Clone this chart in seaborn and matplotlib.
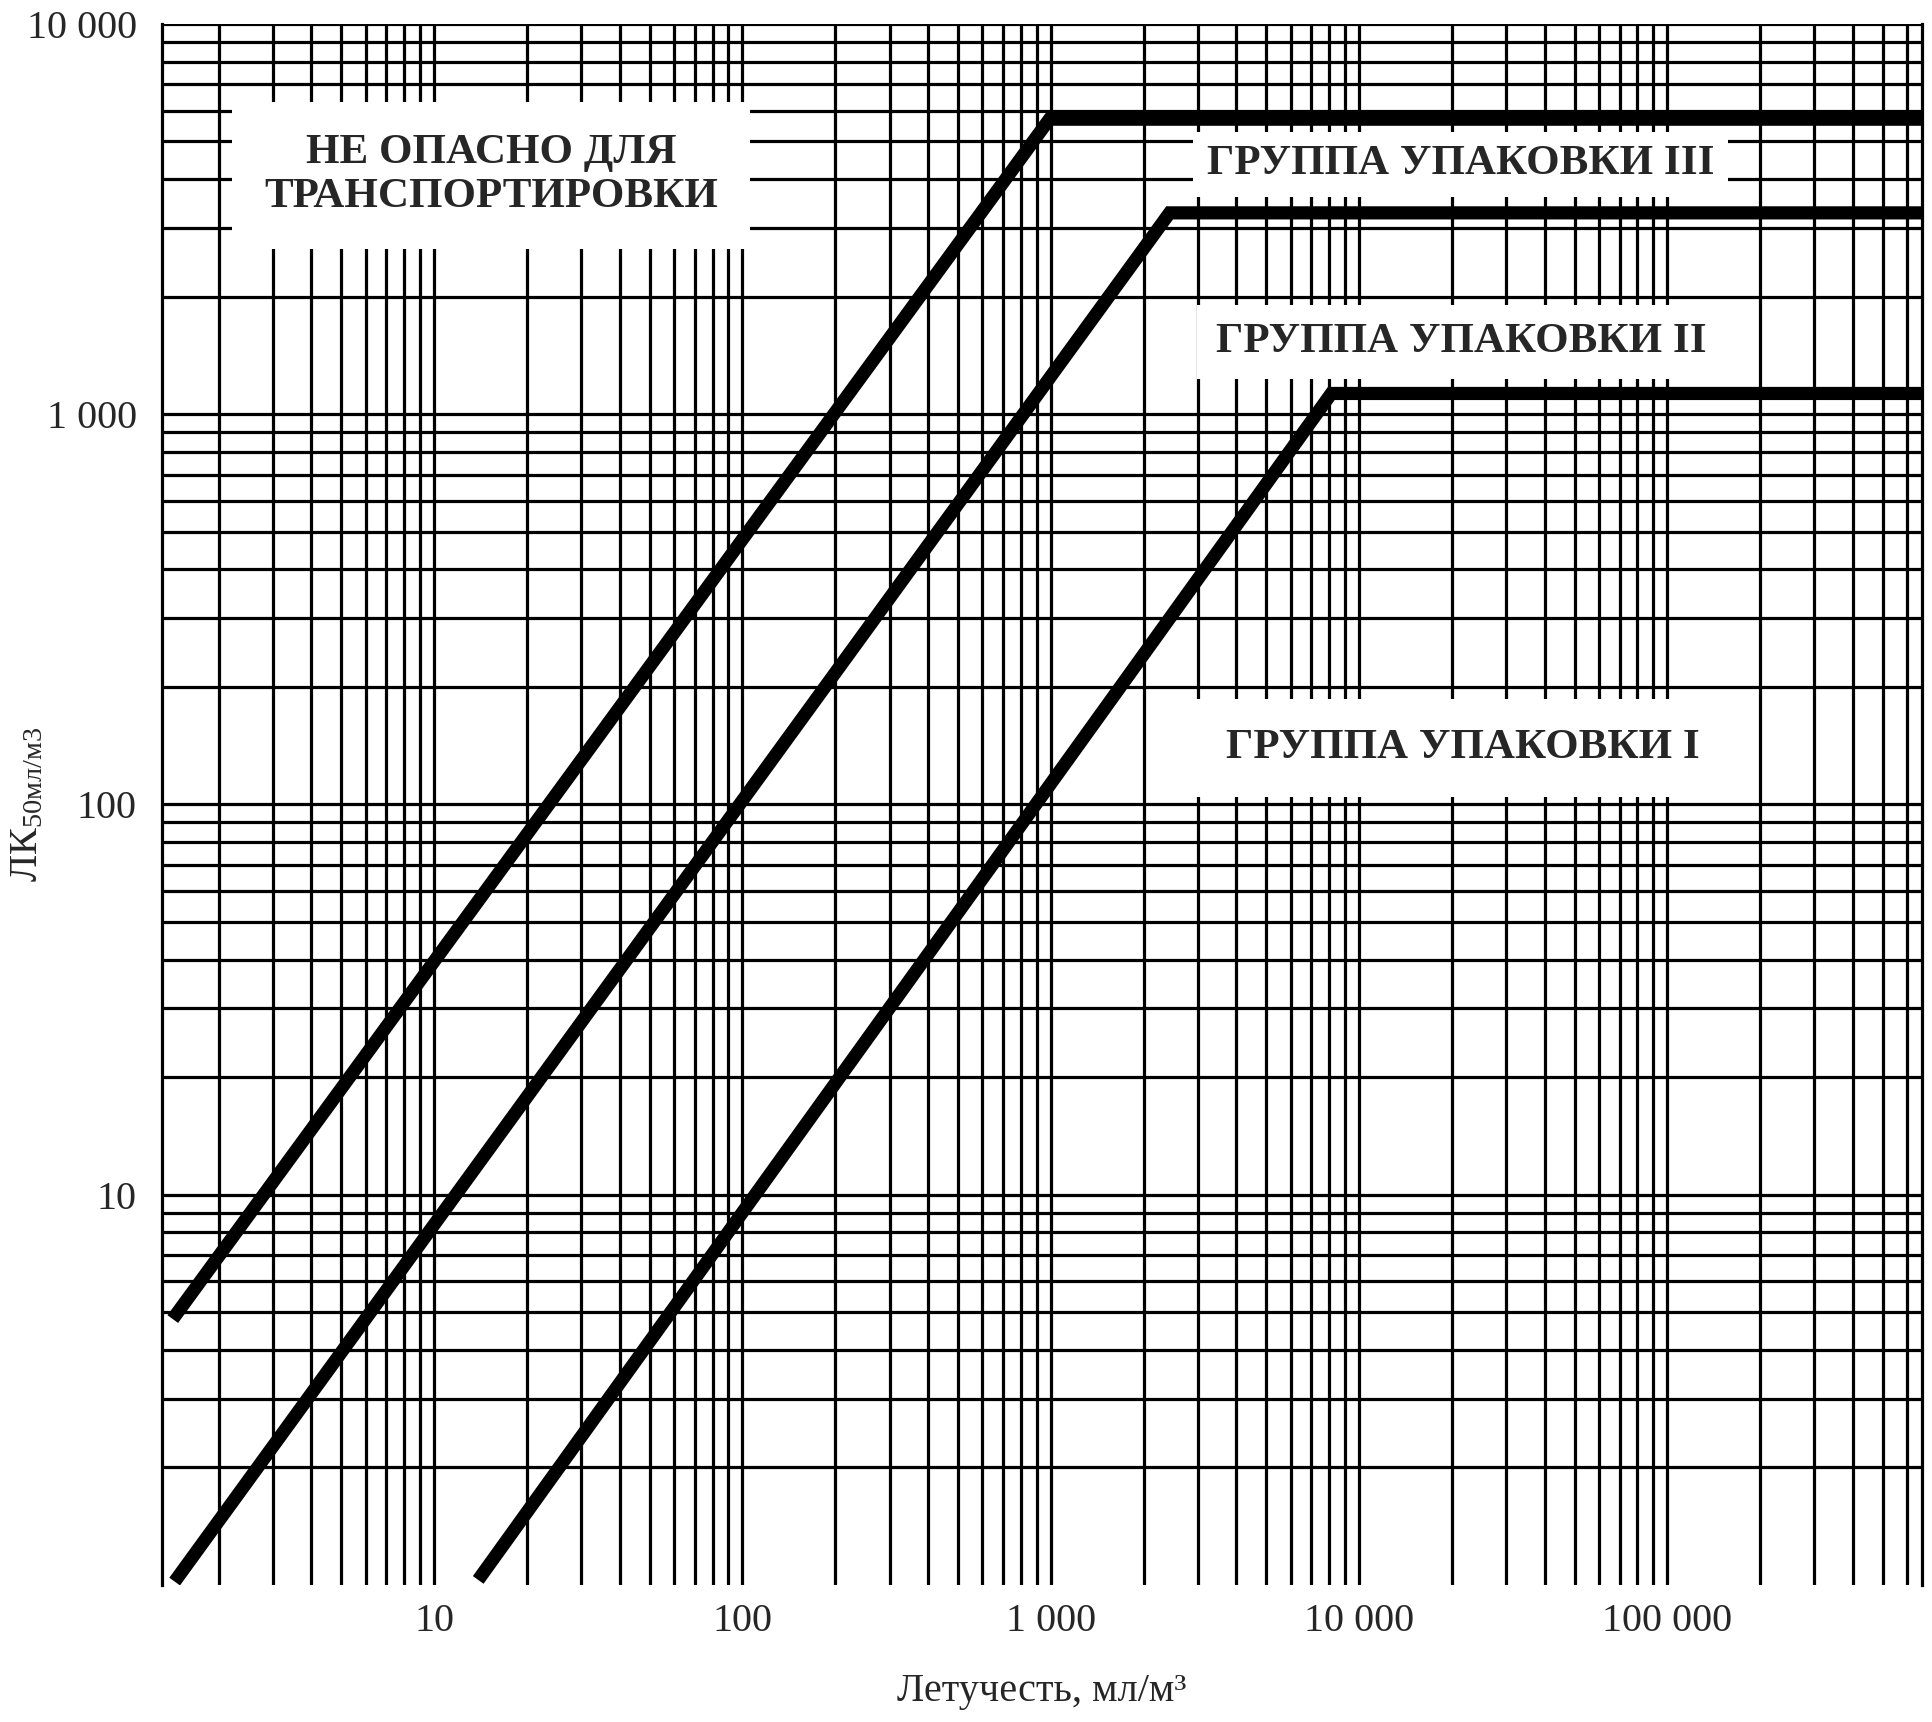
import numpy as np
import pandas as pd
import matplotlib
matplotlib.use("Agg")
import matplotlib.pyplot as plt
import matplotlib.ticker as mticker
import seaborn as sns

# boundary lines: volatility (ml/m3) vs LC50 (ml/m3)
group_names = ["III", "II", "I"]
volatility_iii = [1.42, 990, 6.7e5]
lc50_iii = [4.8, 5700, 5700]
volatility_ii = [1.44, 2430, 6.7e5]
lc50_ii = [1.02, 3280, 3280]
volatility_i = [13.9, 8130, 6.7e5]
lc50_i = [1.03, 1130, 1130]

x_ticks = [10, 100, 1000, 10000, 100000]
x_tick_labels = ["10", "100", "1 000", "10 000", "100 000"]
y_ticks = [10, 100, 1000, 10000]
y_tick_labels = ["10", "100", "1 000", "10 000"]

zone_labels = [
    "НЕ ОПАСНО ДЛЯ\nТРАНСПОРТИРОВКИ",
    "ГРУППА УПАКОВКИ III",
    "ГРУППА УПАКОВКИ II",
    "ГРУППА УПАКОВКИ I",
]

df = pd.concat([
    pd.DataFrame({"vol": volatility_iii, "lc50": lc50_iii, "group": "III"}),
    pd.DataFrame({"vol": volatility_ii, "lc50": lc50_ii, "group": "II"}),
    pd.DataFrame({"vol": volatility_i, "lc50": lc50_i, "group": "I"}),
], ignore_index=True)

sns.set_theme(style="white")
plt.rcParams["font.family"] = ["Liberation Serif", "DejaVu Serif"]
plt.rcParams["mathtext.fontset"] = "custom"
plt.rcParams["mathtext.rm"] = "Liberation Serif"
plt.rcParams["mathtext.it"] = "Liberation Serif:italic"
plt.rcParams["mathtext.bf"] = "Liberation Serif:bold"

fig = plt.figure(figsize=(19.33, 17.22), dpi=100)
ax = fig.add_axes([0.0838, 0.0796, 0.9105, 0.9065])

sns.lineplot(data=df, x="vol", y="lc50", hue="group", hue_order=group_names,
             palette=["black"] * 3, estimator=None, sort=False, legend=False,
             linewidth=9.5, ax=ax, zorder=4)
for ln in ax.get_lines():
    ln.set_solid_capstyle("butt")
    ln.set_solid_joinstyle("miter")

ax.set_xscale("log")
ax.set_yscale("log")
ax.set_xlim(1.31, 6.7e5)
ax.set_ylim(1.0, 10000)

ax.xaxis.set_major_locator(mticker.FixedLocator(x_ticks))
ax.xaxis.set_major_formatter(mticker.FixedFormatter(x_tick_labels))
ax.xaxis.set_minor_locator(mticker.LogLocator(base=10, subs=np.arange(2, 10), numticks=20))
ax.xaxis.set_minor_formatter(mticker.NullFormatter())
ax.yaxis.set_major_locator(mticker.FixedLocator(y_ticks))
ax.yaxis.set_major_formatter(mticker.FixedFormatter(y_tick_labels))
ax.yaxis.set_minor_locator(mticker.LogLocator(base=10, subs=np.arange(2, 10), numticks=20))
ax.yaxis.set_minor_formatter(mticker.NullFormatter())

ax.grid(which="both", color="black", linewidth=2.3)
ax.set_axisbelow(True)
ax.tick_params(which="both", length=0)
ax.tick_params(axis="x", pad=13, labelsize=29)
ax.tick_params(axis="y", pad=18, labelsize=29)

for side in ["top", "bottom"]:
    ax.spines[side].set_visible(False)
for side in ["left", "right"]:
    ax.spines[side].set_color("black")
    ax.spines[side].set_linewidth(2.3)

ax.set_xlabel("Летучесть, мл/м³", fontsize=29, labelpad=24)
ax.set_ylabel(r"ЛК$_{\mathrm{50мл/м3}}$", fontsize=29)
ax.yaxis.set_label_coords(-0.066, 0.5)

# zone labels on white boxes
label_pos = [(0.187, 0.903, 0.75), (0.738, 0.910, 0.32),
             (0.738, 0.796, 0.42), (0.739, 0.536, 0.7)]
for txt, (px, py, pad) in zip(zone_labels, label_pos):
    ax.text(px, py, txt, transform=ax.transAxes, ha="center", va="center",
            fontsize=31, fontweight="bold", linespacing=1.2, zorder=5,
            bbox=dict(boxstyle=f"square,pad={pad}", facecolor="white", edgecolor="none"))

fig.savefig("out.png", dpi=100, facecolor="white")
